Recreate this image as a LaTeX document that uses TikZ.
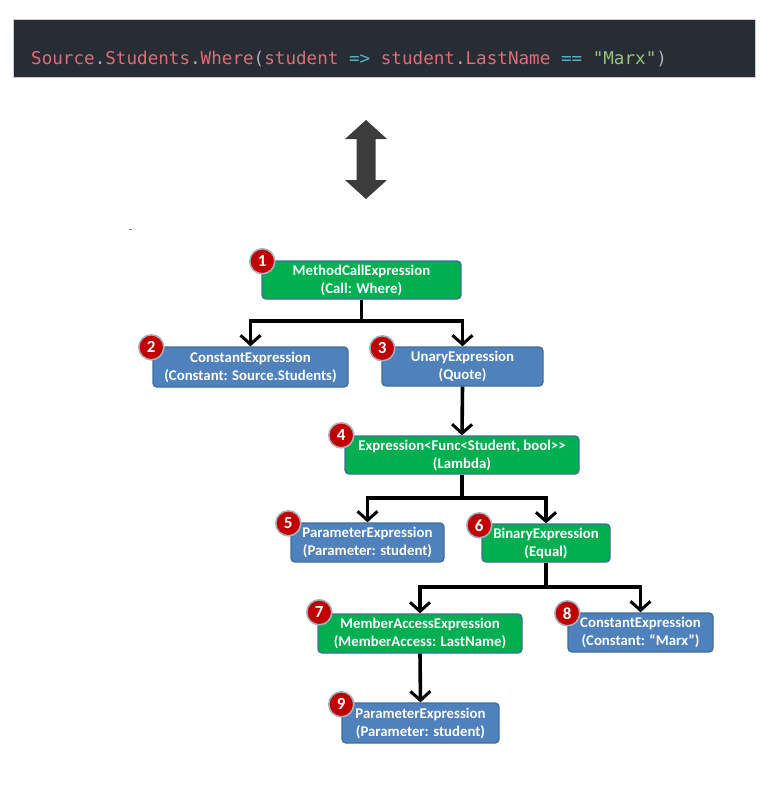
\documentclass[tikz,border=0pt]{standalone}
\usepackage{fontspec}
\setmainfont{Carlito}[Ligatures=NoCommon]
\newfontfamily\codefont{DejaVu Sans Mono}
\usetikzlibrary{arrows.meta,calc}
\definecolor{codebg}{HTML}{282C34}
\definecolor{codered}{HTML}{E06C75}
\definecolor{codecyan}{HTML}{56B6C2}
\definecolor{codegreen}{HTML}{98C379}
\definecolor{codegray}{HTML}{ABB2BF}
\definecolor{boxgreen}{HTML}{00B050}
\definecolor{boxblue}{HTML}{4F81BD}
\definecolor{boxborder}{HTML}{3F6E9B}
\definecolor{badgered}{HTML}{C00000}
\definecolor{badgering}{HTML}{A9AEBB}
\definecolor{bigarrow}{HTML}{3C3C3C}
\tikzset{
  exprbox/.style={draw=boxborder, line width=1.4pt, rounded corners=4pt,
    text=white, font=\bfseries\fontsize{14.8}{18}\selectfont, align=center,
    inner sep=0pt, anchor=center},
  greenbox/.style={exprbox, fill=boxgreen},
  bluebox/.style={exprbox, fill=boxblue},
  badge/.style={circle, fill=badgered, draw=badgering, line width=1.6pt,
    minimum size=25pt, inner sep=0pt, text=white,
    font=\bfseries\fontsize{17}{17}\selectfont},
  conn/.style={line width=3.6pt, draw=black,
    -{Straight Barb[length=9pt,width=20pt,line width=3pt]}},
  trunk/.style={line width=3.6pt, draw=black}
}
\begin{document}
\begin{tikzpicture}[x=1pt,y=-1pt]
\useasboundingbox (0,0) rectangle (762,787);
% code block
\fill[codebg] (13,19) rectangle (755,77);
\draw[gray!40, line width=0.6pt] (13,19) rectangle (755,77);
\node[anchor=base west, inner sep=0pt, font=\codefont\fontsize{17.6}{20}\selectfont] (code) at (31,64)
 {\textcolor{codered}{Source}\textcolor{codegray}{.}\textcolor{codered}{Students}\textcolor{codegray}{.}\textcolor{codered}{Where}\textcolor{codegray}{(}\textcolor{codered}{student}\textcolor{codecyan}{\ =>\ }\textcolor{codered}{student}\textcolor{codegray}{.}\textcolor{codered}{LastName}\textcolor{codecyan}{\ ==\ }\textcolor{codegreen}{"Marx"}\textcolor{codegray}{)}};
% double arrow
\fill[bigarrow] (366,120) -- (387,139) -- (375.5,139) -- (375.5,180) -- (387,180) -- (366,199)
  -- (345,180) -- (356.5,180) -- (356.5,139) -- (345,139) -- cycle;
% tiny mark
\draw[gray, line width=0.8pt] (129,229) -- (132,229);
% nodes
\node[greenbox, minimum width=199pt, minimum height=38pt] (n1) at (361.5,280) {MethodCallExpression\\(Call: Where)};
\node[bluebox, minimum width=195pt, minimum height=40pt] (n2) at (250.5,367) {ConstantExpression\\(Constant: Source.Students)};
\node[bluebox, minimum width=161pt, minimum height=39pt] (n3) at (462.5,366.5) {UnaryExpression\\(Quote)};
\node[greenbox, minimum width=234pt, minimum height=38pt] (n4) at (462,455) {Expression<Func<Student, bool>{}>\\(Lambda)};
\node[bluebox, minimum width=153pt, minimum height=39pt] (n5) at (367.5,542.5) {ParameterExpression\\(Parameter: student)};
\node[greenbox, minimum width=128pt, minimum height=38pt] (n6) at (546,543) {BinaryExpression\\(Equal)};
\node[greenbox, minimum width=204pt, minimum height=39pt] (n7) at (420,633.5) {MemberAccessExpression\\(MemberAccess: LastName)};
\node[bluebox, minimum width=145pt, minimum height=39pt] (n8) at (640.5,632.5) {ConstantExpression\\(Constant: “Marx”)};
\node[bluebox, minimum width=157pt, minimum height=40pt] (n9) at (420.5,723) {ParameterExpression\\(Parameter: student)};
% connectors
\coordinate (j1) at ($(n1.south)+(0,21)$);
\coordinate (j4) at ($(n4.south)+(0,23)$);
\coordinate (j6) at ($(n6.south)+(0,24)$);
\draw[trunk] (n1.south) -- (j1);
\draw[conn] (j1) -| (n2.north);
\draw[conn] (j1) -| (n3.north);
\draw[conn] (n3.south) -- (n4.north);
\draw[trunk] (n4.south) -- (j4);
\draw[conn] (j4) -| (n5.north);
\draw[conn] (j4) -| (n6.north);
\draw[trunk] (n6.south) -- (j6);
\draw[conn] (j6) -| (n7.north);
\draw[conn] (j6) -| (n8.north);
\draw[conn] (n7.south) -- (n9.north);
% badges
\node[badge] (b1) at ($(n1.north west)+(1,1)$) {1};
\node[badge] (b2) at ($(n2.north west)+(-1,1)$) {2};
\node[badge] (b3) at ($(n3.north west)+(1,2)$) {3};
\node[badge] (b4) at ($(n4.north west)+(-3,0)$) {4};
\node[badge] (b5) at ($(n5.north west)+(-2,1)$) {5};
\node[badge] (b6) at ($(n6.north west)+(-2,2)$) {6};
\node[badge] (b7) at ($(n7.north west)+(2,-1)$) {7};
\node[badge] (b8) at ($(n8.north west)+(0,1)$) {8};
\node[badge] (b9) at ($(n9.north west)+(0,2)$) {9};
\end{tikzpicture}
\end{document}
